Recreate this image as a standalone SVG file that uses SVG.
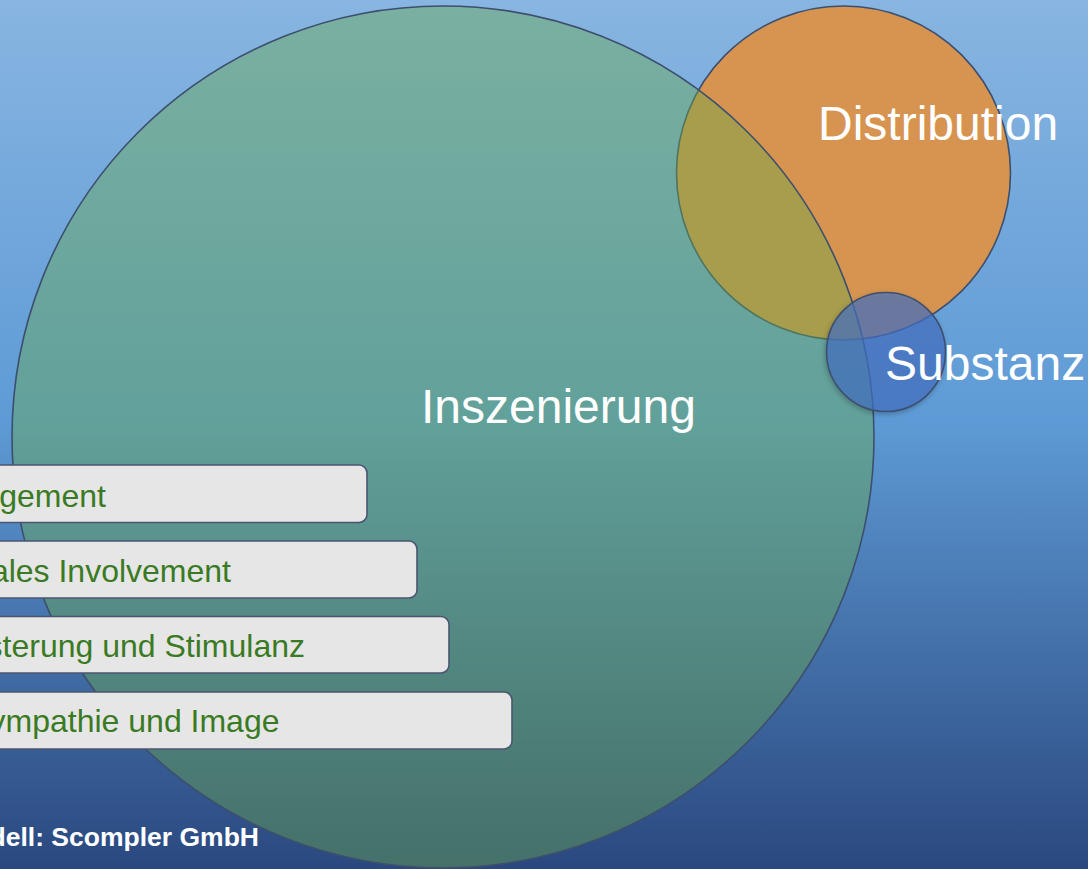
<svg xmlns="http://www.w3.org/2000/svg" width="1088" height="869" viewBox="0 0 1088 869">
  <defs>
    <linearGradient id="bg" x1="0" y1="0" x2="0" y2="1">
      <stop offset="0" stop-color="#88B5E1"/>
      <stop offset="0.48" stop-color="#5E9BD6"/>
      <stop offset="0.72" stop-color="#4674AD"/>
      <stop offset="1" stop-color="#2A487F"/>
    </linearGradient>
    <filter id="shadow" x="-20%" y="-20%" width="140%" height="140%">
      <feDropShadow dx="-1" dy="2" stdDeviation="2.5" flood-color="#000000" flood-opacity="0.3"/>
    </filter>
    <style>
      .circle-stroke { stroke: #3D4F6E; stroke-width: 1.6; }
      .label { font-family: "Liberation Sans", Arial, sans-serif; fill: #FFFFFF; font-size: 48px; }
      .box { fill: #E6E6E6; stroke: #4A5670; stroke-width: 1.6; }
      .boxtext { font-family: "Liberation Sans", Arial, sans-serif; fill: #3A7A22; font-size: 32px; text-anchor: end; }
      .credit { font-family: "Liberation Sans", Arial, sans-serif; fill: #FFFFFF; font-size: 26.5px; font-weight: bold; text-anchor: end; }
    </style>
  </defs>

  <rect x="0" y="0" width="1088" height="869" fill="url(#bg)"/>

  <g id="node-distribution">
    <circle cx="843.5" cy="173" r="167" fill="#D69450" class="circle-stroke"/>
  </g>

  <g id="node-inszenierung">
    <circle cx="443" cy="437" r="431" fill="#6AAA4A" fill-opacity="0.42" class="circle-stroke"/>
  </g>

  <g id="node-substanz">
    <circle cx="886" cy="352" r="59.5" fill="#4472C4" fill-opacity="0.66" class="circle-stroke" filter="url(#shadow)"/>
  </g>

  <g id="labels">
    <text class="label" x="421" y="423">Inszenierung</text>
    <text class="label" x="818" y="139.5">Distribution</text>
    <text class="label" x="885" y="379.5">Substanz</text>
  </g>

  <g id="node-box1">
    <rect class="box" x="-30" y="465" width="397" height="57.5" rx="8"/>
    <text class="boxtext" x="106" y="506.5">gement</text>
  </g>
  <g id="node-box2">
    <rect class="box" x="-30" y="541" width="447" height="57" rx="8"/>
    <text class="boxtext" x="231" y="581.5">ales Involvement</text>
  </g>
  <g id="node-box3">
    <rect class="box" x="-30" y="616.5" width="479" height="56.5" rx="8"/>
    <text class="boxtext" x="305" y="656.5">sterung und Stimulanz</text>
  </g>
  <g id="node-box4">
    <rect class="box" x="-30" y="692" width="542" height="57" rx="8"/>
    <text class="boxtext" x="279.5" y="731.5">ympathie und Image</text>
  </g>

  <g id="connectors"></g>

  <g id="credit">
    <text class="credit" x="259" y="846">dell: Scompler GmbH</text>
  </g>
</svg>
